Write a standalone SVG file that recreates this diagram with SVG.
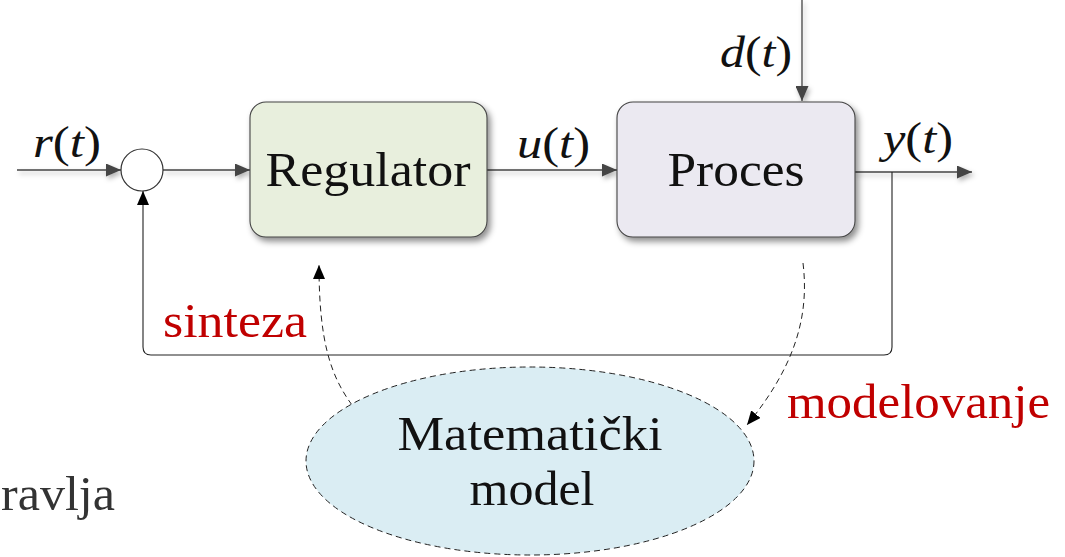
<svg xmlns="http://www.w3.org/2000/svg" width="1065" height="557" viewBox="0 0 1065 557">
  <style>
    .lbl { font-family: "Liberation Serif", "Times New Roman", serif; fill: #111; }
    .big { font-size: 48px; }
    .math { font-size: 44px; }
    .it { font-style: italic; }
    .red { fill: #c00000; font-size: 48px; font-family: "Liberation Serif", serif; }
    .sig { fill: none; stroke: #444; stroke-width: 1.3; }
    .dash { fill: none; stroke: #222; stroke-width: 1; stroke-dasharray: 6 4; }
  </style>
  <defs>
    <filter id="shadow" x="-10%" y="-10%" width="130%" height="140%">
      <feDropShadow dx="3" dy="4" stdDeviation="3" flood-color="#000" flood-opacity="0.45"/>
    </filter>
    <filter id="lineShadow" x="-5%" y="-50%" width="110%" height="300%">
      <feDropShadow dx="2" dy="3" stdDeviation="2.5" flood-color="#000" flood-opacity="0.3"/>
    </filter>
    <marker id="tri" viewBox="0 0 15 13" refX="15" refY="6.5" markerWidth="15" markerHeight="13" markerUnits="userSpaceOnUse" orient="auto">
      <path d="M0,0 L15,6.5 L0,13 Z" fill="#444"/>
    </marker>
    <marker id="triBlack" viewBox="0 0 14 12" refX="14" refY="6" markerWidth="14" markerHeight="12" markerUnits="userSpaceOnUse" orient="auto">
      <path d="M0,0 L14,6 L0,12 Z" fill="#000"/>
    </marker>
  </defs>

  <!-- signal lines -->
  <g id="connectors">
    <g filter="url(#lineShadow)">
      <path class="sig" d="M17,170 H121" marker-end="url(#tri)"/>
      <path class="sig" d="M163,170 H250" marker-end="url(#tri)"/>
      <path class="sig" d="M487,170 H617" marker-end="url(#tri)"/>
      <path class="sig" d="M855,172 H972" marker-end="url(#tri)"/>
      <path class="sig" d="M802,0 V101" marker-end="url(#tri)"/>
    </g>
    <!-- feedback loop -->
    <path d="M892,172 V347 Q892,355 884,355 H151 Q143,355 143,347 V191" fill="none" stroke="#222" stroke-width="1.1" marker-end="url(#triBlack)"/>
    <!-- synthesis and modelling arrows -->
    <path class="dash" d="M352,405 C330,375 319,340 319,265" marker-end="url(#triBlack)"/>
    <path class="dash" d="M803,263 C810,320 792,370 747,425" marker-end="url(#triBlack)"/>
  </g>

  <!-- summing junction -->
  <g id="sum">
    <circle cx="142" cy="170" r="21" fill="#fff" stroke="#333" stroke-width="1.2"/>
  </g>

  <g id="regulator">
    <rect x="250" y="102" width="237" height="135" rx="16" fill="#e8efdd" stroke="#444" stroke-width="1.1" filter="url(#shadow)"/>
    <text class="lbl big" x="368" y="186" text-anchor="middle" textLength="205" lengthAdjust="spacingAndGlyphs">Regulator</text>
  </g>

  <g id="proces">
    <rect x="617" y="102" width="238" height="135" rx="16" fill="#ebe9f1" stroke="#444" stroke-width="1.1" filter="url(#shadow)"/>
    <text class="lbl big" x="736" y="186" text-anchor="middle" textLength="137" lengthAdjust="spacingAndGlyphs">Proces</text>
  </g>

  <g id="model">
    <ellipse cx="530" cy="461" rx="224" ry="94" fill="#daedf3" stroke="#222" stroke-width="1" stroke-dasharray="6 4"/>
    <text class="lbl big" x="530" y="450" text-anchor="middle" textLength="265" lengthAdjust="spacingAndGlyphs">Matematički</text>
    <text class="lbl big" x="532" y="505" text-anchor="middle" textLength="125" lengthAdjust="spacingAndGlyphs">model</text>
  </g>

  <!-- signal labels -->
  <g id="labels">
    <text class="lbl math" x="33" y="157" textLength="68" lengthAdjust="spacingAndGlyphs"><tspan class="it">r</tspan>(<tspan class="it">t</tspan>)</text>
    <text class="lbl math" x="517" y="158" textLength="73" lengthAdjust="spacingAndGlyphs"><tspan class="it">u</tspan>(<tspan class="it">t</tspan>)</text>
    <text class="lbl math" x="720" y="67" textLength="72" lengthAdjust="spacingAndGlyphs"><tspan class="it">d</tspan>(<tspan class="it">t</tspan>)</text>
    <text class="lbl math" x="883" y="153" textLength="70" lengthAdjust="spacingAndGlyphs"><tspan class="it">y</tspan>(<tspan class="it">t</tspan>)</text>
    <text class="red" x="163" y="337" textLength="144" lengthAdjust="spacingAndGlyphs">sinteza</text>
    <text class="red" x="787" y="418" textLength="263" lengthAdjust="spacingAndGlyphs">modelovanje</text>
    <text class="lbl big" x="1" y="510" textLength="114" lengthAdjust="spacingAndGlyphs" style="fill:#333">ravlja</text>
  </g>
</svg>
